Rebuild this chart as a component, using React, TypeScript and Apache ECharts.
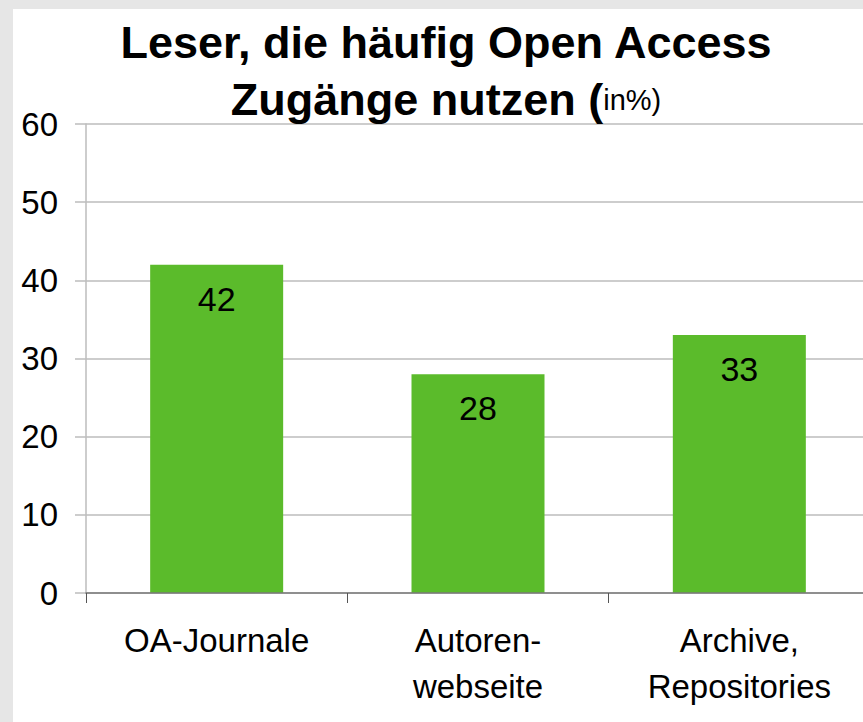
import React, { useEffect, useRef } from "react";
import * as echarts from "echarts";

const categories = ["OA-Journale", "Autoren-\nwebseite", "Archive,\nRepositories"];
const values = [42, 28, 33];
const yTicks = [0, 10, 20, 30, 40, 50, 60];
const titleLine1 = "Leser, die häufig Open Access";
const titleLine2Bold = "Zugänge nutzen (";
const titleLine2Normal = "in%)";

const FONT = "'Liberation Sans', Arial, sans-serif";

export default function App() {
  const ref = useRef<HTMLDivElement>(null);
  useEffect(() => {
    if (!ref.current) return;
    const chart = echarts.init(ref.current, undefined, { renderer: "svg" });
    chart.setOption({
      animation: false,
      backgroundColor: "#e6e6e6",
      textStyle: { fontFamily: FONT },
      graphic: [
        {
          type: "rect",
          z: -10,
          silent: true,
          shape: { x: 13, y: 9, width: 860, height: 720 },
          style: { fill: "#ffffff" },
        },
      ],
      title: {
        left: 441,
        top: 9,
        textAlign: "center",
        text: `{b|${titleLine1}}\n{b|${titleLine2Bold}}{n|${titleLine2Normal}}`,
        textStyle: {
          rich: {
            b: { fontFamily: FONT, fontSize: 45, fontWeight: "bold", color: "#000", lineHeight: 57 },
            n: { fontFamily: FONT, fontSize: 29, fontWeight: "normal", color: "#000", lineHeight: 57, verticalAlign: "middle" },
          },
        },
      },
      grid: {
        left: 86,
        right: -7,
        top: 124,
        bottom: 129,
        outerBoundsMode: "none",
        containLabel: false,
      },
      xAxis: {
        type: "category",
        data: categories,
        axisLine: { show: true, lineStyle: { color: "#7a7a7a", width: 1.5 } },
        axisTick: { show: true, length: 10, lineStyle: { color: "#555" } },
        axisLabel: {
          color: "#000",
          fontSize: 33,
          fontFamily: FONT,
          lineHeight: 46,
          margin: 24,
          interval: 0,
        },
        z: 5,
      },
      yAxis: {
        type: "value",
        min: yTicks[0],
        max: yTicks[yTicks.length - 1],
        interval: 10,
        axisLine: { show: true, lineStyle: { color: "#bcbcbc", width: 1.5 } },
        axisTick: { show: true, length: 11, lineStyle: { color: "#bcbcbc", width: 1.5 } },
        splitLine: { show: true, lineStyle: { color: "#bcbcbc", width: 1.5 } },
        axisLabel: { color: "#000", fontSize: 33, fontFamily: FONT, margin: 28 },
      },
      series: [
        {
          type: "bar",
          data: values,
          barWidth: 133,
          itemStyle: { color: "#5bbb2b" },
          label: {
            show: true,
            position: "insideTop",
            distance: 17,
            color: "#000",
            fontSize: 34,
            fontFamily: FONT,
          },
        },
      ],
    });
    return () => chart.dispose();
  }, []);
  return (
    <div style={{ position: "fixed", left: 0, top: 0, width: 863, height: 722 }}>
      <div ref={ref} style={{ width: 863, height: 722 }} />
    </div>
  );
}
